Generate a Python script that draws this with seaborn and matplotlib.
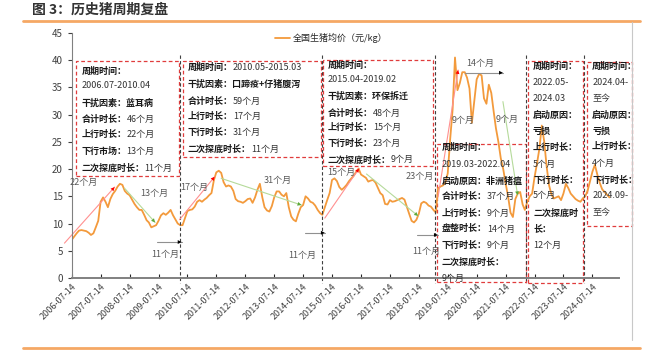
import numpy as np
import pandas as pd
import matplotlib
matplotlib.use('Agg')
import matplotlib.pyplot as plt
import matplotlib.dates as mdates
from matplotlib.lines import Line2D
from matplotlib.patches import Rectangle
import seaborn as sns

# 全国生猪均价（元/kg），月度，2006-07 起
price = [
    7.0, 7.6, 8.2, 8.7, 8.8, 8.7, 8.6, 8.3, 7.9, 8.2, 9.3, 10.5,
    14.0, 14.8, 14.0, 13.0, 14.5, 15.4, 16.0, 16.8, 17.3, 17.1, 16.0, 15.5,
    15.2, 14.4, 13.6, 13.0, 12.5, 12.5, 11.6, 10.6, 10.2, 9.3, 9.5, 9.7,
    10.5, 11.5, 11.9, 11.6, 12.0, 12.5, 11.5, 10.7, 10.0, 9.7, 9.7, 11.0,
    12.3, 12.5, 12.6, 13.1, 14.0, 14.3, 14.0, 14.4, 14.7, 15.2, 15.6, 18.0,
    19.4, 19.7, 19.3, 17.6, 16.8, 17.0, 16.8, 16.0, 14.5, 14.1, 14.0, 13.8,
    14.1, 14.5, 14.6, 13.8, 14.8, 16.2, 17.3, 14.8, 13.0, 12.4, 12.2, 13.2,
    14.8, 15.9, 15.9, 15.3, 15.0, 15.6, 13.0, 11.3, 10.7, 10.4, 11.8, 13.0,
    13.4, 15.0, 14.6, 14.0, 13.8, 13.3, 12.5, 11.9, 11.6, 13.0, 14.3, 15.6,
    18.0, 18.3, 17.8, 16.7, 16.2, 16.6, 17.1, 17.8, 18.3, 18.8, 19.5, 20.1,
    19.0, 18.7, 18.4, 17.7, 17.9, 18.0, 17.5, 16.5, 15.6, 15.2, 13.6, 13.5,
    14.3, 14.0, 14.1, 14.3, 14.5, 14.7, 14.4, 13.0, 11.8, 10.5, 10.2, 10.7,
    11.8, 13.7, 14.0, 13.8, 13.3, 13.1, 12.5, 12.0, 16.5, 16.8, 17.0, 17.5,
    19.2, 25.5, 31.0, 40.5, 34.5, 35.8, 37.8, 37.8, 36.8, 34.8, 28.5, 32.5,
    36.5, 37.5, 37.2, 33.0, 32.0, 35.5, 34.0, 30.5, 27.5, 25.0, 22.0, 20.0,
    17.4, 15.0, 12.0, 11.2, 14.5, 15.5, 15.8, 13.5, 12.5, 14.0, 15.0, 15.5,
    18.5, 21.0, 23.8, 28.0, 25.0, 20.5, 17.0, 15.3, 14.6, 14.8, 15.0, 14.3,
    15.5, 17.3, 16.5, 15.5, 15.0, 14.5, 14.2, 14.0, 14.6, 15.0, 16.0, 17.8,
    19.5, 20.8, 19.0, 17.5, 16.3, 15.8, 15.3, 14.8,
]
dates = pd.date_range('2006-07-01', periods=len(price), freq='MS') + pd.Timedelta(days=13)
tick_years = list(range(2006, 2025))
tick_labels = [f'{y}-07-14' for y in tick_years]

# 各周期文字框：(月序号起, 月序号止, 下沿, 上沿, 文字行[(粗体, 常规)], 行纵坐标)
boxes = [
    (1.95, 44.7, 18.7, 39.9,
     [('周期时间：', ''), ('', '2006.07-2010.04'), ('干扰因素：蓝耳病', ''),
      ('合计时长：', '46个月'), ('上行时长：', '22个月'), ('下行市场：', '13个月'),
      ('二次探底时长：', '11个月')],
     [38.0, 35.3, 32.1, 29.2, 26.3, 23.3, 20.2]),
    (46.0, 103.3, 22.2, 39.9,
     [('周期时间：', '2010.05-2015.03'), ('干扰因素：口蹄疫+仔猪腹泻', ''),
      ('合计时长：', '59个月'), ('上行时长：', '17个月'), ('下行时长：', '31个月'),
      ('二次探底时长：', '11个月')],
     [38.6, 35.6, 32.5, 29.6, 26.8, 23.7]),
    (104.1, 149.8, 20.6, 40.0,
     [('周期时间：', ''), ('', '2015.04-2019.02'), ('干扰因素：环保拆迁', ''),
      ('合计时长：', '48个月'), ('上行时长：', '15个月'), ('下行时长：', '23个月'),
      ('二次探底时长：', '9个月')],
     [39.1, 36.4, 33.4, 30.3, 27.6, 24.8, 21.7]),
    (151.4, 188.4, -0.7, 24.6,
     [('周期时间：', ''), ('', '2019.03-2022.04'), ('启动原因：非洲猪瘟', ''),
      ('合计时长：', '37个月'), ('上行时长：', '9个月'), ('盘整时长：', '14个月'),
      ('下行时长：', '9个月'), ('二次探底时长：', ''), ('', '9个月')],
     [23.9, 20.9, 17.8, 14.9, 11.9, 9.0, 5.9, 2.9, 0.0]),
    (189.2, 212.1, -0.9, 39.9,
     [('周期时间：', ''), ('', '2022.05-'), ('', '2024.03'), ('启动原因：', ''),
      ('亏损', ''), ('上行时长：', ''), ('', '5个月'), ('下行时长：', ''),
      ('', '5个月'), ('二次探底时', ''), ('长：', ''), ('', '12个月')],
     [38.9, 36.0, 32.9, 29.9, 27.0, 23.9, 20.9, 18.0, 15.1, 11.9, 9.0, 5.9]),
    (213.7, 232.4, 9.6, 39.7,
     [('周期时间：', ''), ('', '2024.04-'), ('', '至今'), ('启动原因：', ''),
      ('亏损', ''), ('上行时长：', ''), ('', '4个月'), ('下行时长：', ''),
      ('', '2024.09-'), ('', '至今')],
     [38.8, 36.0, 32.9, 29.9, 27.0, 24.1, 21.1, 18.0, 15.1, 12.1]),
]
bounds = [45.1, 103.7, 150.6, 188.4, 212.5]
up_arrows = [((-3.0, 6.4), (17.8, 16.7)), ((44.7, 10.7), (59.3, 18.6)),
             ((105.0, 11.0), (119.2, 20.1)), ((152.0, 14.9), (160.3, 38.2))]
down_arrows = [((21.9, 16.5), (34.6, 10.2)), ((62.0, 18.3), (95.3, 13.4)),
               ((122.3, 19.1), (143.7, 11.4)), ((178.9, 32.4), (185.0, 15.2))]
flat_arrows = [((35.2, 6.6), (45.6, 6.6)), ((96.6, 8.3), (105.0, 8.3)),
               ((143.1, 7.9), (151.9, 7.9)), ((163.0, 37.7), (178.9, 37.7))]
notes = [('22个月', 4.9, 17.5), ('13个月', 34.4, 15.6), ('17个月', 51.0, 16.7),
         ('31个月', 85.5, 18.0), ('15个月', 111.8, 19.3), ('23个月', 144.4, 18.7),
         ('11个月', 38.7, 4.4), ('11个月', 95.8, 4.2), ('11个月', 146.9, 4.8),
         ('14个月', 169.3, 39.5), ('9个月', 162.3, 29.0), ('9个月', 180.5, 29.2)]

sns.set_style('white')
plt.rcParams['font.family'] = ['Noto Sans CJK SC', 'DejaVu Sans']

t0 = mdates.date2num(pd.Timestamp('2006-07-14'))
def mx(m):
    # 月序号 -> 横轴坐标
    return t0 + m * 30.437

fig = plt.figure(figsize=(6.46, 3.55), dpi=100)
ax = fig.add_axes([0.111, 0.217, 0.847, 0.690])

df = pd.DataFrame({'date': dates, 'price': price})
sns.lineplot(data=df, x='date', y='price', ax=ax, color='#F39A3C', lw=1.3,
             label='全国生猪均价（元/kg）')

ax.set_xlim(mx(0), mx(227))
ax.set_ylim(0, 45)
ax.set_yticks(range(0, 46, 5))
ax.set_xticks([mdates.date2num(pd.Timestamp(t)) for t in tick_labels])
ax.set_xticklabels(tick_labels, rotation=45, ha='right', rotation_mode='anchor',
                   fontsize=6.5, color='#404040')
ax.tick_params(axis='y', labelsize=7, colors='#404040', length=3, width=0.8, left=True)
ax.tick_params(axis='x', direction='in', length=3, width=0.8, bottom=True, pad=3)
ax.set_xlabel('')
ax.set_ylabel('')
for s in ['top', 'right']:
    ax.spines[s].set_visible(False)
ax.spines['left'].set_color('#808080')
ax.spines['bottom'].set_color('#808080')
ax.spines['bottom'].set_linewidth(1.4)

ax.legend(loc='upper left', bbox_to_anchor=(0.372, 1.0), frameon=False, fontsize=6.5,
          handlelength=1.6, handletextpad=0.3, borderpad=0, borderaxespad=0)

# 周期分界
for b in bounds:
    ax.plot([mx(b), mx(b)], [41, -1], color='#404040', lw=0.8, ls=(0, (3, 2)), clip_on=False)

# 文字框
for x0, x1, y0, y1, lines, ys in boxes:
    ax.add_patch(Rectangle((mx(x0), y0), mx(x1) - mx(x0), y1 - y0, fill=False,
                           edgecolor='#E03C3C', lw=0.9, ls=(0, (3, 2)), clip_on=False))
    for (b, n), yy in zip(lines, ys):
        if b:
            t = ax.text(mx(x0 + 2.2), yy, b, fontsize=6.5, weight='bold', color='#1a1a1a',
                        va='center', ha='left', clip_on=False)
            if n:
                ax.annotate(n, xy=(1, 0.5), xycoords=t, fontsize=6.5, color='#333333',
                            va='center', ha='left')
        else:
            ax.text(mx(x0 + 2.2), yy, n, fontsize=6.5, color='#333333', va='center',
                    ha='left', clip_on=False)

# 趋势箭头
for arrows, col, lc in [(up_arrows, '#FF0000', '#FF9090'), (down_arrows, '#5DA83A', '#B5DA9A'),
                        (flat_arrows, '#000000', '#909090')]:
    for p0, p1 in arrows:
        ax.plot([mx(p0[0]), mx(p1[0])], [p0[1], p1[1]], color=lc, lw=0.8, clip_on=False)
        ax.annotate('', xy=(mx(p1[0]), p1[1]),
                    xytext=(mx(p1[0]) - (mx(p1[0]) - mx(p0[0])) * 0.02, p1[1] - (p1[1] - p0[1]) * 0.02),
                    arrowprops=dict(arrowstyle='-|>', color=col, lw=0, mutation_scale=7,
                                    shrinkA=0, shrinkB=0))

for s, m, v in notes:
    ax.text(mx(m), v, s, fontsize=6.5, color='#595959', ha='center', va='center')

# 页面装饰
fig.text(32 / 646, 1 - 10 / 355, '图 3：历史猪周期复盘', fontsize=10, weight='bold',
         color='#333333', va='center', ha='left')
fig.add_artist(Line2D([23 / 646, 640 / 646], [1 - 20.5 / 355] * 2, color='#F5A865', lw=2))
fig.add_artist(Line2D([23 / 646, 640 / 646], [1 - 348 / 355] * 2, color='#F5A865', lw=2))
fig.add_artist(Line2D([632 / 646] * 2, [1 - 22 / 355, 1 - 340 / 355], color='#C8C8C8', lw=0.8))

fig.savefig('out.png', dpi=100)
